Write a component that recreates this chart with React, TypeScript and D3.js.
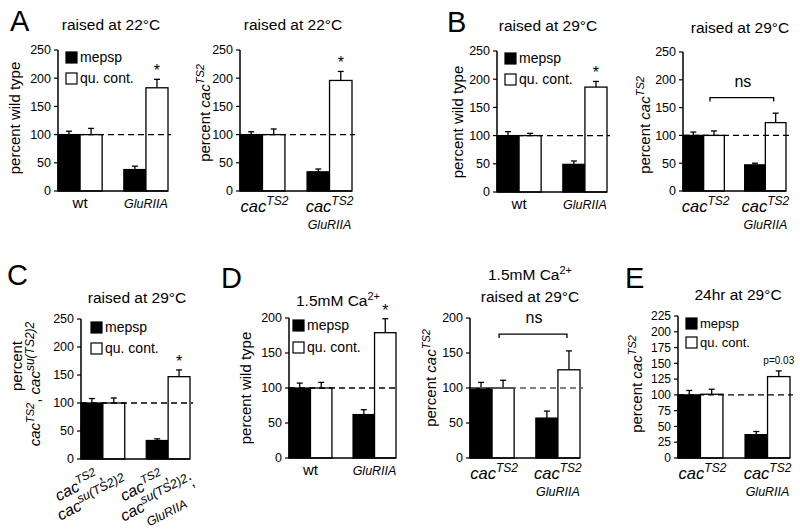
import React from 'react'
import * as d3 from 'd3'

const FONT = '"Liberation Sans", Arial, Helvetica, sans-serif'

// values (percent of control), error = upward SEM
const mepspA1 = [100, 38]
const mepspErrA1 = [6, 6]
const quantA1 = [100, 183]
const quantErrA1 = [11, 15]

const mepspA2 = [100, 34]
const mepspErrA2 = [5, 5]
const quantA2 = [100, 196]
const quantErrA2 = [10, 16]

const mepspB1 = [100, 49]
const mepspErrB1 = [7, 6]
const quantB1 = [100, 186]
const quantErrB1 = [4, 10]

const mepspB2 = [100, 47]
const mepspErrB2 = [6, 3]
const quantB2 = [100, 123]
const quantErrB2 = [8, 17]

const mepspC = [100, 33]
const mepspErrC = [8, 3]
const quantC = [100, 147]
const quantErrC = [9, 12]

const mepspD1 = [100, 62]
const mepspErrD1 = [7, 7]
const quantD1 = [100, 179]
const quantErrD1 = [8, 20]

const mepspD2 = [100, 57]
const mepspErrD2 = [8, 10]
const quantD2 = [100, 126]
const quantErrD2 = [11, 27]

const mepspE = [100, 37]
const mepspErrE = [7, 5]
const quantE = [101, 129]
const quantErrE = [8, 9]

const ticks250 = [0, 50, 100, 150, 200, 250]
const ticks200 = [0, 50, 100, 150, 200]
const ticks225 = [0, 25, 50, 75, 100, 125, 150, 175, 200, 225]

const seriesKeys = ['mepsp', 'quant']
const legendLabels = ['mepsp', 'qu. cont.']

type Legend = { dx: number; dy: number; gap: number; font: number }

type PanelSpec = {
  x0: number; x1: number; top: number; bottom: number; max: number; ticks: number[]
  mepsp: number[]; mepspErr: number[]; quant: number[]; quantErr: number[]
  mark?: string; ns?: number; dashColor?: string; legend?: Legend
  labels: 'wt' | 'cac' | 'su'; tickFont?: number
}

function cac(key: string, sup: string, size: number, supSize: number, tail = '') {
  return (
    <React.Fragment key={key}>
      <tspan fontStyle="italic" fontSize={size}>cac</tspan>
      <tspan fontStyle="italic" fontSize={supSize} dy={-size * 0.42}>{sup}</tspan>
      {tail ? <tspan fontSize={size} dy={size * 0.42}>{tail}</tspan> : null}
    </React.Fragment>
  )
}

function Panel(p: PanelSpec) {
  const y = d3.scaleLinear().domain([0, p.max]).range([p.bottom, p.top])
  const xg = d3.scaleBand<number>()
    .domain(d3.range(p.mepsp.length))
    .range([p.x0, p.x1])
    .paddingInner(0.33)
  const xs = d3.scaleBand<string>().domain(seriesKeys).range([0, xg.bandwidth()])
  const bw = xs.bandwidth()
  const rows = p.mepsp.map((m, i) => [
    { key: 'mepsp', v: m, e: p.mepspErr[i], x: xg(i)! + xs('mepsp')! },
    { key: 'quant', v: p.quant[i], e: p.quantErr[i], x: xg(i)! + xs('quant')! },
  ])
  const last = rows[rows.length - 1][1]
  const white1 = rows[0][1]
  return (
    <g>
      {rows.flat().map((b, k) => (
        <g key={k}>
          <line x1={b.x + bw / 2} x2={b.x + bw / 2} y1={y(b.v)} y2={y(b.v + b.e)} stroke="#000" strokeWidth={1.3} />
          <line x1={b.x + bw / 2 - 3} x2={b.x + bw / 2 + 3} y1={y(b.v + b.e)} y2={y(b.v + b.e)} stroke="#000" strokeWidth={1.3} />
          <rect x={b.x} y={y(b.v)} width={bw} height={y(0) - y(b.v)}
            fill={b.key === 'mepsp' ? '#000' : '#fff'} stroke="#000" strokeWidth={1.3} />
        </g>
      ))}
      <line x1={p.x0} x2={p.x1 + 3} y1={y(100)} y2={y(100)} stroke={p.dashColor || '#000'}
        strokeWidth={1.4} strokeDasharray="6,4" />
      <line x1={p.x0} x2={p.x0} y1={y(p.max)} y2={y(0)} stroke="#000" strokeWidth={1.5} />
      <line x1={p.x0} x2={p.x1} y1={y(0)} y2={y(0)} stroke="#000" strokeWidth={1.5} />
      {p.ticks.map(t => (
        <g key={t}>
          <line x1={p.x0 - 4} x2={p.x0} y1={y(t)} y2={y(t)} stroke="#000" strokeWidth={1.2} />
          <text x={p.x0 - 7} y={y(t)} dy="0.35em" textAnchor="end" fontSize={p.tickFont || 12.5}>{t}</text>
        </g>
      ))}
      {p.mark === '*' && (
        <text x={last.x + bw / 2} y={y(last.v + last.e) - 3} textAnchor="middle" fontSize={16}>*</text>
      )}
      {p.mark && p.mark !== '*' && (
        <text x={last.x + bw / 2} y={y(last.v + last.e) - 7} textAnchor="middle" fontSize={10}>{p.mark}</text>
      )}
      {p.ns !== undefined && (
        <g stroke="#000" strokeWidth={1.3} fill="none">
          <path d={`M${white1.x + bw / 2 - 4},${y(p.ns) + 4}V${y(p.ns)}H${last.x + bw / 2 - 2}V${y(p.ns) + 4}`} />
          <text x={(white1.x + last.x + bw) / 2 - 2} y={y(p.ns) - 11} textAnchor="middle"
            fontSize={16} fill="#000" stroke="none">ns</text>
        </g>
      )}
      {p.legend && legendLabels.map((l, i) => (
        <g key={l}>
          <rect x={p.x0 + p.legend!.dx} y={p.top + p.legend!.dy + i * p.legend!.gap} width={11} height={11}
            fill={i === 0 ? '#000' : '#fff'} stroke="#000" strokeWidth={1.2} />
          <text x={p.x0 + p.legend!.dx + 14} y={p.top + p.legend!.dy + i * p.legend!.gap + 10}
            fontSize={p.legend!.font}>{l}</text>
        </g>
      ))}
      {p.labels === 'wt' && (
        <>
          <text x={xg(0)! + xg.bandwidth() / 2} y={p.bottom + 17} textAnchor="middle" fontSize={15}>wt</text>
          <text x={xg(1)! + xg.bandwidth() / 2} y={p.bottom + 17} textAnchor="middle" fontSize={12.5}
            fontStyle="italic">GluRIIA</text>
        </>
      )}
      {p.labels === 'cac' && (
        <>
          <text x={xg(0)! + xg.bandwidth() / 2 + 2} y={p.bottom + 21} textAnchor="middle">
            {cac('a', 'TS2', 16.5, 12)}
          </text>
          <text x={xg(1)! + xg.bandwidth() / 2} y={p.bottom + 21} textAnchor="middle">
            {cac('b', 'TS2', 16.5, 12)}
          </text>
          <text x={xg(1)! + xg.bandwidth() / 2} y={p.bottom + 38} textAnchor="middle" fontSize={12.5}
            fontStyle="italic">GluRIIA</text>
        </>
      )}
      {p.labels === 'su' && [0, 1].map(i => (
        <g key={i} transform={`translate(${xg(i)! + xg.bandwidth() / 2 - 22},${p.bottom + 31}) rotate(-27)`}>
          <text x={0} y={0} textAnchor="middle">{cac('l1', 'TS2', 16, 11.5, ',')}</text>
          <text x={6} y={18} textAnchor="middle">{cac('l2', 'su(TS2)2', 16, 12.5, i === 1 ? ';' : '')}</text>
          {i === 1 && <text x={8} y={34} textAnchor="middle" fontSize={12.5} fontStyle="italic">GluRIIA</text>}
        </g>
      ))}
    </g>
  )
}

const panels: PanelSpec[] = [
  { x0: 58, x1: 168, top: 50, bottom: 191, max: 250, ticks: ticks250, mepsp: mepspA1, mepspErr: mepspErrA1,
    quant: quantA1, quantErr: quantErrA1, mark: '*', legend: { dx: 8, dy: 2, gap: 21, font: 14 }, labels: 'wt' },
  { x0: 240, x1: 352, top: 50, bottom: 191, max: 250, ticks: ticks250, mepsp: mepspA2, mepspErr: mepspErrA2,
    quant: quantA2, quantErr: quantErrA2, mark: '*', labels: 'cac' },
  { x0: 497, x1: 607, top: 51, bottom: 192, max: 250, ticks: ticks250, mepsp: mepspB1, mepspErr: mepspErrB1,
    quant: quantB1, quantErr: quantErrB1, mark: '*', legend: { dx: 8, dy: 2, gap: 21, font: 14 }, labels: 'wt' },
  { x0: 683, x1: 786, top: 52, bottom: 191, max: 250, ticks: ticks250, mepsp: mepspB2, mepspErr: mepspErrB2,
    quant: quantB2, quantErr: quantErrB2, ns: 168, labels: 'cac' },
  { x0: 81, x1: 190, top: 319, bottom: 459, max: 250, ticks: ticks250, mepsp: mepspC, mepspErr: mepspErrC,
    quant: quantC, quantErr: quantErrC, mark: '*', legend: { dx: 10, dy: 3, gap: 21, font: 14 }, labels: 'su' },
  { x0: 289, x1: 396, top: 318, bottom: 458, max: 200, ticks: ticks200, mepsp: mepspD1, mepspErr: mepspErrD1,
    quant: quantD1, quantErr: quantErrD1, mark: '*', legend: { dx: 4, dy: 2, gap: 22, font: 14 }, labels: 'wt' },
  { x0: 470, x1: 580, top: 318, bottom: 458, max: 200, ticks: ticks200, mepsp: mepspD2, mepspErr: mepspErrD2,
    quant: quantD2, quantErr: quantErrD2, ns: 177, dashColor: '#555', labels: 'cac' },
  { x0: 678, x1: 790, top: 316, bottom: 458, max: 225, ticks: ticks225, mepsp: mepspE, mepspErr: mepspErrE,
    quant: quantE, quantErr: quantErrE, mark: 'p=0.03', legend: { dx: 8, dy: 2, gap: 19, font: 13 },
    labels: 'cac', tickFont: 12 },
]

const letters = [
  { t: 'A', x: 10, y: 31 }, { t: 'B', x: 447, y: 32 }, { t: 'C', x: 7, y: 285 },
  { t: 'D', x: 221, y: 288 }, { t: 'E', x: 625, y: 288 },
]

const titles = [
  { t: 'raised at 22°C', x: 111, y: 30 }, { t: 'raised at 22°C', x: 293, y: 30 },
  { t: 'raised at 29°C', x: 548, y: 31 }, { t: 'raised at 29°C', x: 740, y: 33 },
  { t: 'raised at 29°C', x: 137, y: 303 }, { t: 'raised at 29°C', x: 530, y: 302 },
  { t: '24hr at 29°C', x: 738, y: 300 },
]

export default function App() {
  return (
    <svg width={800} height={531} style={{ position: 'absolute', left: 0, top: 0, background: '#fff' }}
      fontFamily={FONT} fill="#000">
      <rect width={800} height={531} fill="#fff" />
      {letters.map(l => (
        <text key={l.t} x={l.x} y={l.y} fontSize={29}>{l.t}</text>
      ))}
      {titles.map((t, i) => (
        <text key={i} x={t.x} y={t.y} textAnchor="middle" fontSize={15.5}>{t.t}</text>
      ))}
      <text x={338} y={306} textAnchor="middle" fontSize={15.5}>
        1.5mM Ca<tspan fontSize={11} dy={-6}>2+</tspan>
      </text>
      <text x={530} y={280} textAnchor="middle" fontSize={15.5}>
        1.5mM Ca<tspan fontSize={11} dy={-6}>2+</tspan>
      </text>

      {/* y axis titles */}
      <text transform="translate(20,118) rotate(-90)" textAnchor="middle" fontSize={15}>percent wild type</text>
      <text transform="translate(463,122) rotate(-90)" textAnchor="middle" fontSize={15}>percent wild type</text>
      <text transform="translate(251,388) rotate(-90)" textAnchor="middle" fontSize={15}>percent wild type</text>
      {[{ x: 210, y: 113 }, { x: 650, y: 125 }, { x: 436, y: 378 }, { x: 642, y: 384 }].map((p, i) => (
        <text key={i} transform={`translate(${p.x},${p.y}) rotate(-90)`} textAnchor="middle" fontSize={15}>
          percent {cac('y', 'TS2', 15, 11)}
        </text>
      ))}
      <text transform="translate(22,366) rotate(-90)" textAnchor="middle" fontSize={15}>percent</text>
      <text transform="translate(40,384) rotate(-90)" textAnchor="middle" fontSize={15}>
        {cac('c1', 'TS2', 15, 11, ', ')}{cac('c2', 'su(TS2)2', 15, 12)}
      </text>

      {panels.map((p, i) => <Panel key={i} {...p} />)}
    </svg>
  )
}
